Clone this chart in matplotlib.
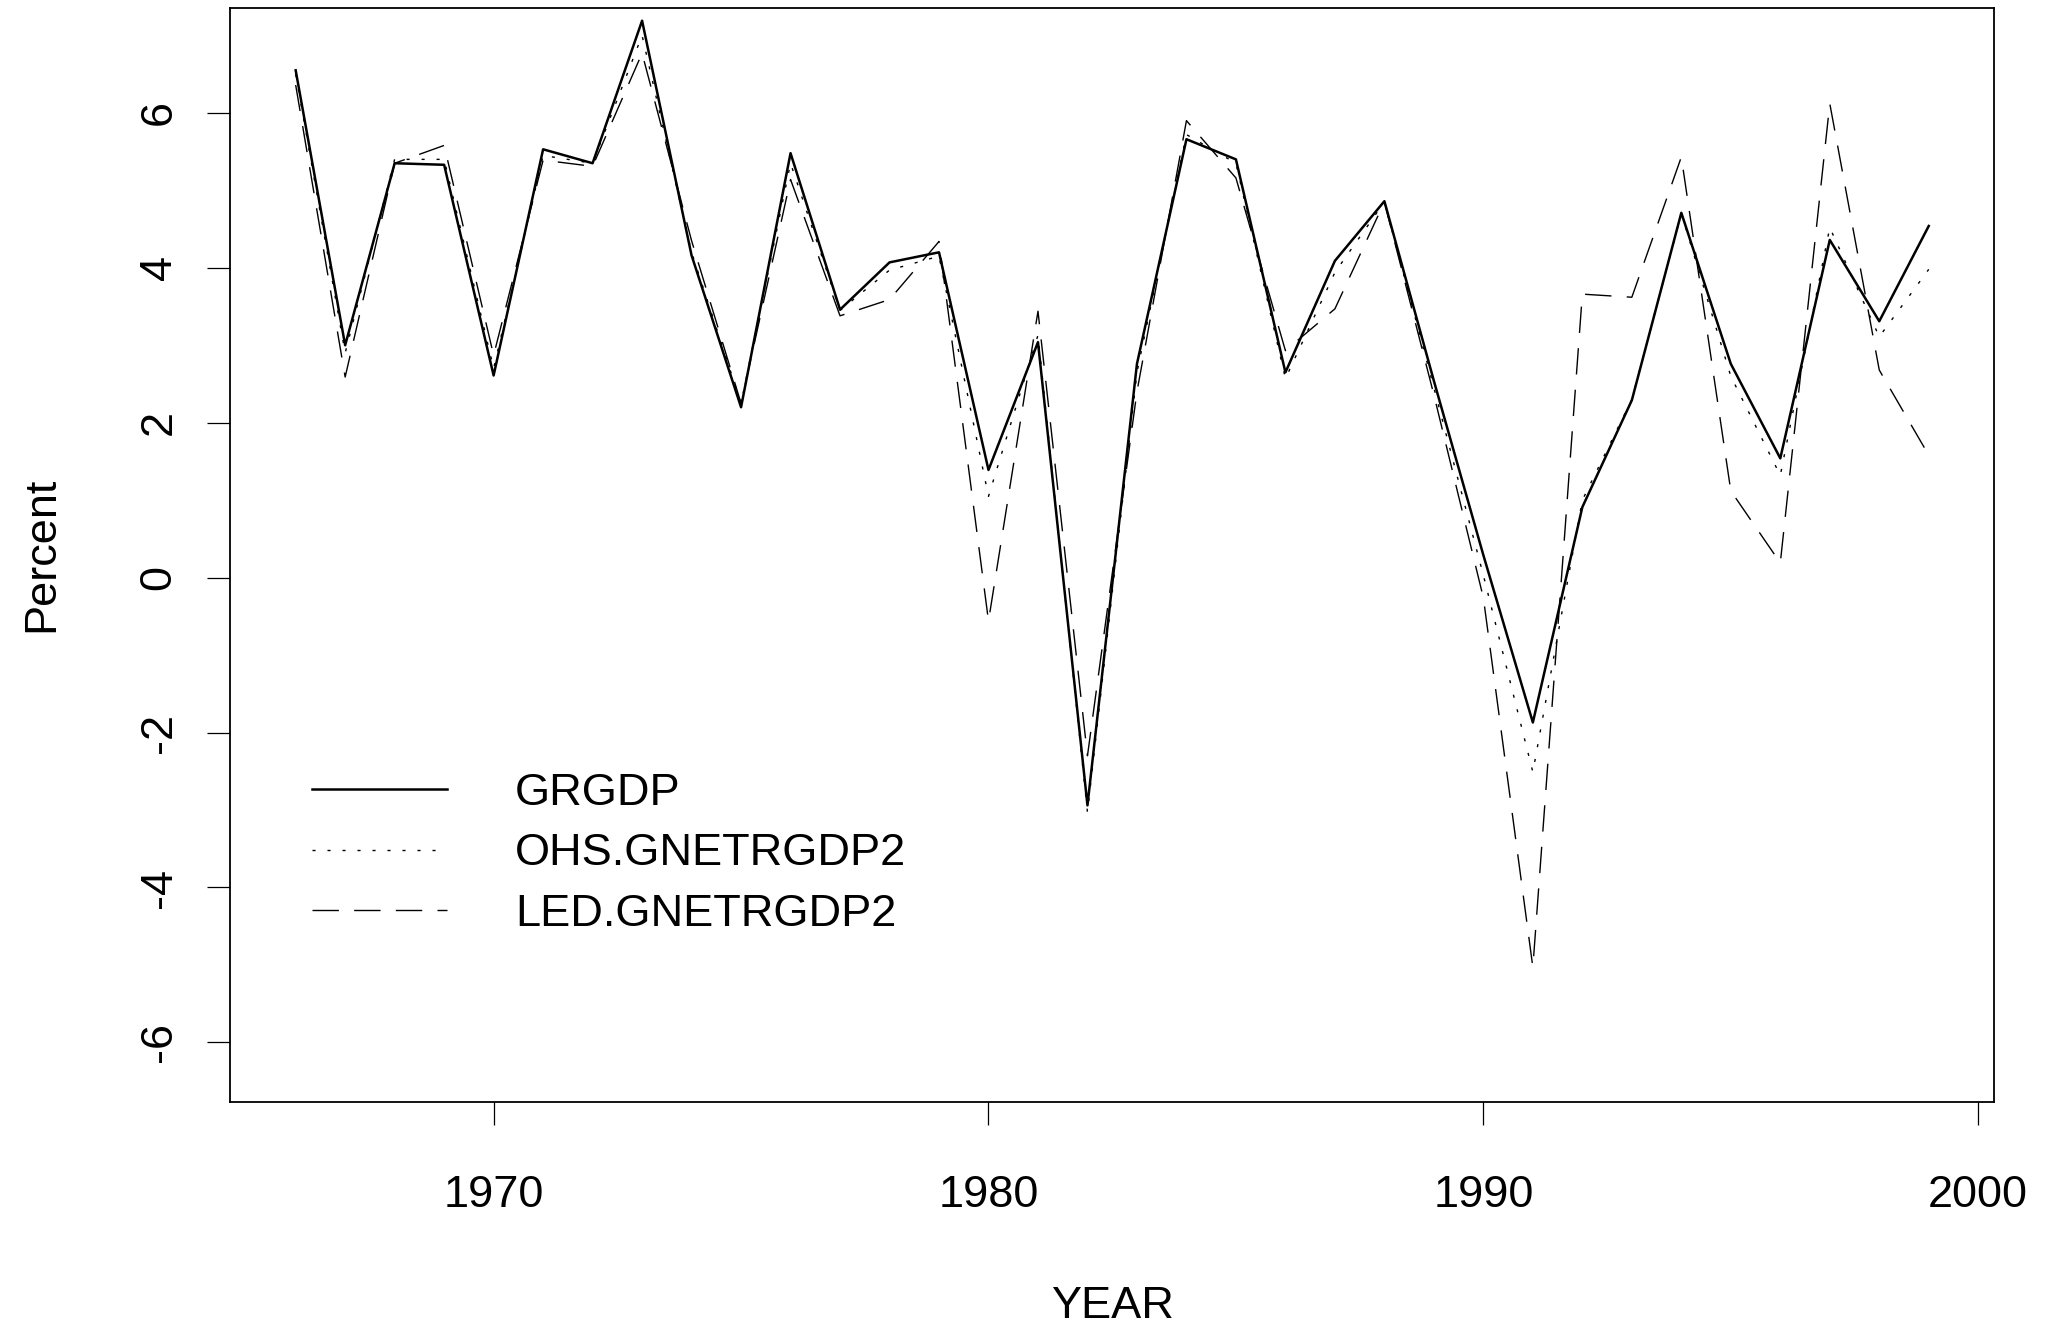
import matplotlib
matplotlib.use("Agg")
import matplotlib.pyplot as plt

# growth of real GDP, actual vs. two model estimates (percent)
years = list(range(1966, 2000))
grgdp = [6.55, 3.00, 5.35, 5.33, 2.61, 5.53, 5.35, 7.19, 4.16, 2.20,
         5.48, 3.46, 4.07, 4.20, 1.39, 3.04, -2.94, 2.76, 5.66, 5.40,
         2.65, 4.09, 4.86, 2.54, 0.29, -1.87, 0.91, 2.29, 4.71, 2.76,
         1.54, 4.36, 3.31, 4.54]
ohs = [6.50, 2.90, 5.40, 5.40, 2.70, 5.45, 5.35, 7.00, 4.20, 2.25,
       5.35, 3.45, 3.97, 4.15, 1.05, 3.13, -3.03, 2.65, 5.72, 5.35,
       2.57, 3.94, 4.85, 2.45, 0.03, -2.51, 1.00, 2.30, 4.70, 2.60,
       1.32, 4.52, 3.11, 3.98]
led = [6.36, 2.59, 5.35, 5.58, 2.87, 5.39, 5.31, 6.77, 4.35, 2.25,
       5.14, 3.38, 3.59, 4.34, -0.56, 3.44, -2.30, 2.40, 5.90, 5.16,
       2.93, 3.47, 4.85, 2.36, -0.26, -5.03, 3.66, 3.62, 5.43, 1.12,
       0.19, 6.12, 2.68, 1.58]
labels = ["GRGDP", "OHS.GNETRGDP2", "LED.GNETRGDP2"]
xticks = [1970, 1980, 1990, 2000]
yticks = [-6, -4, -2, 0, 2, 4, 6]

plt.rcParams["font.family"] = ["Liberation Sans", "DejaVu Sans"]
plt.rcParams["lines.scale_dashes"] = False
fs = 32.5

fig = plt.figure(figsize=(20.53, 13.25), dpi=100)
ax = fig.add_axes([0.1122, 0.1683, 0.8591, 0.8260])

ax.plot(years, grgdp, color="black", lw=1.8, label=labels[0])
ax.plot(years, ohs, color="black", lw=1.0, dashes=(2.2, 8.6), label=labels[1])
ax.plot(years, led, color="black", lw=1.0, dashes=(19.0, 11.0), label=labels[2])

ax.set_xlim(1964.68, 2000.32)
ax.set_ylim(-6.77, 7.36)
ax.set_xticks(xticks)
ax.set_yticks(yticks)
ax.set_xticklabels([str(t) for t in xticks])
ax.set_yticklabels([str(t) for t in yticks], rotation=90, va="center")
ax.tick_params(axis="both", direction="out", length=16.5, width=0.9,
               labelsize=fs, color="black")
ax.tick_params(axis="x", pad=36)
ax.tick_params(axis="y", pad=20)
for sp in ax.spines.values():
    sp.set_linewidth(1.3)

ax.set_xlabel("YEAR", fontsize=fs)
ax.xaxis.set_label_coords(0.5, -0.187)
ax.xaxis.label.set_va("center")
ax.set_ylabel("Percent", fontsize=fs)
ax.yaxis.set_label_coords(-0.1068, 0.5)
ax.yaxis.label.set_va("center")

# legend without box, lower left inside the plot
ax.legend(loc="upper left", bbox_to_anchor=(0.0463, 0.301), frameon=False,
          fontsize=fs, handlelength=3.0, handletextpad=1.5,
          labelspacing=0.44, borderpad=0, borderaxespad=0)

fig.savefig("out.png", dpi=100)
